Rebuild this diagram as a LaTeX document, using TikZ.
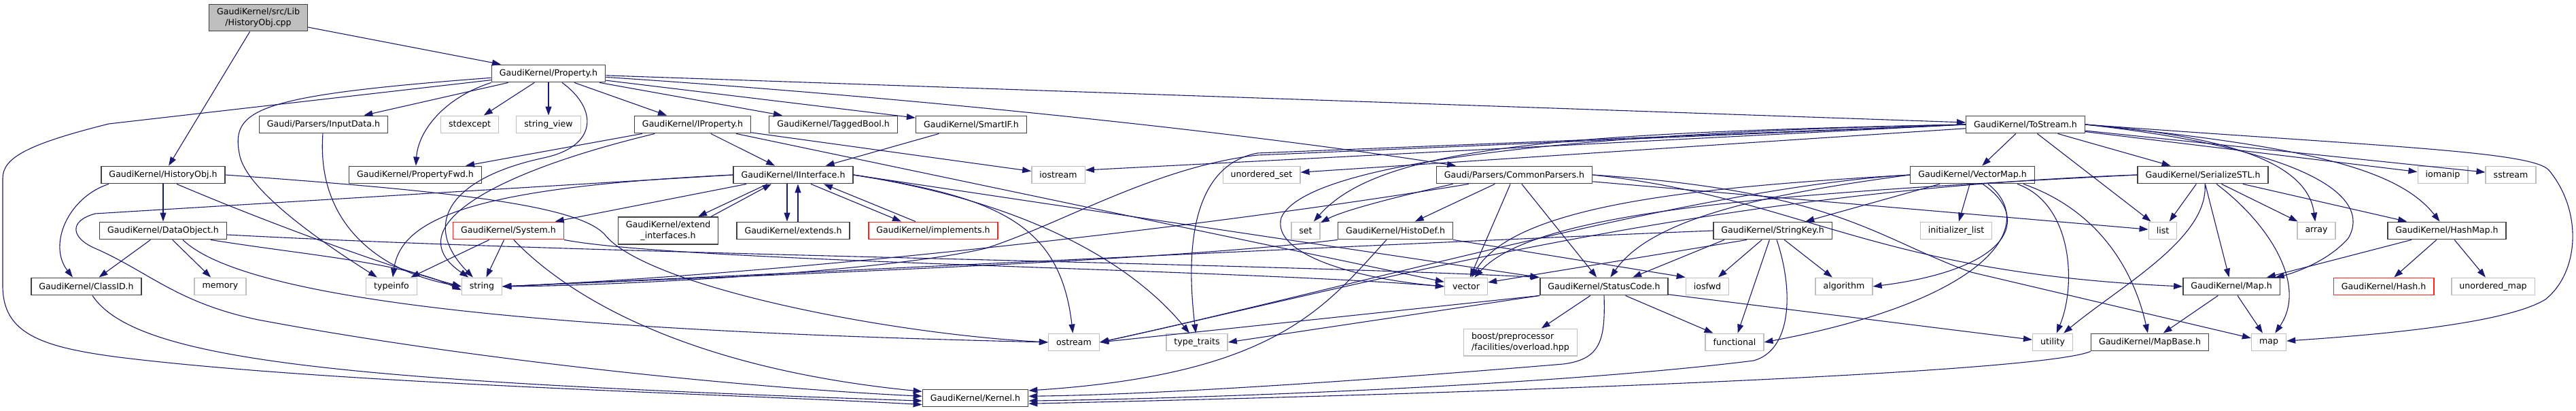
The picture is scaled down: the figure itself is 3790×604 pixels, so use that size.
\documentclass[tikz,border=0pt]{standalone}
\usepackage{fontspec}
\setmainfont{DejaVu Sans}
\usepackage{tikz}
\usetikzlibrary{arrows.meta}
\definecolor{edgeblue}{HTML}{191970}
\definecolor{boxline}{HTML}{404040}
\definecolor{extline}{HTML}{BFBFBF}
\definecolor{rootfill}{HTML}{BFBFBF}
\definecolor{truncline}{HTML}{FF2020}
\tikzset{
  hdr/.style={draw=boxline, line width=1.4pt, fill=white, minimum height=25.5pt,
    inner xsep=11.5pt, inner ysep=6pt, font=\fontsize{12.6}{15.4}\selectfont, align=center},
  sys/.style={hdr, draw=extline},
  trunc/.style={hdr, draw=truncline},
  root/.style={hdr, fill=rootfill},
  dep/.style={draw=edgeblue, line width=1.1pt, -{Triangle[length=13pt,width=9pt]}},
}
\begin{document}
\begin{tikzpicture}[x=1pt,y=-1pt]
\useasboundingbox (0,0) rectangle (3790,604);
% nodes
\node[root] (cpp) at (380,26) {GaudiKernel/src/Lib\\/HistoryObj.cpp};
\node[hdr] (property) at (807,108) {GaudiKernel/Property.h};
\node[hdr] (inputdata) at (476,183) {Gaudi/Parsers/InputData.h};
\node[sys] (stdexcept) at (691,183) {stdexcept};
\node[sys] (stringview) at (807,183) {string\_view};
\node[hdr] (iproperty) at (1019,183) {GaudiKernel/IProperty.h};
\node[hdr] (taggedbool) at (1226,183) {GaudiKernel/TaggedBool.h};
\node[hdr] (smartif) at (1429,183) {GaudiKernel/SmartIF.h};
\node[hdr] (tostream) at (2980,183) {GaudiKernel/ToStream.h};
\node[hdr] (historyobjh) at (240,257) {GaudiKernel/HistoryObj.h};
\node[hdr] (propfwd) at (611,257) {GaudiKernel/PropertyFwd.h};
\node[hdr] (iinterface) at (1167,257) {GaudiKernel/IInterface.h};
\node[sys] (iostream) at (1557,257) {iostream};
\node[sys] (unorderedset) at (1856,257) {unordered\_set};
\node[hdr] (commonparsers) at (2228,257) {Gaudi/Parsers/CommonParsers.h};
\node[hdr] (vectormap) at (2902,257) {GaudiKernel/VectorMap.h};
\node[hdr] (serializestl) at (3241,257) {GaudiKernel/SerializeSTL.h};
\node[sys] (iomanip) at (3594,257) {iomanip};
\node[sys] (sstream) at (3694,257) {sstream};
\node[hdr] (dataobject) at (240,339) {GaudiKernel/DataObject.h};
\node[trunc] (system) at (748,339) {GaudiKernel/System.h};
\node[hdr] (extintf) at (983,339) {GaudiKernel/extend\\\_interfaces.h};
\node[hdr] (extends) at (1167,339) {GaudiKernel/extends.h};
\node[trunc] (implements) at (1373,339) {GaudiKernel/implements.h};
\node[sys] (set) at (1921,339) {set};
\node[hdr] (histodef) at (2053,339) {GaudiKernel/HistoDef.h};
\node[hdr] (stringkey) at (2608,339) {GaudiKernel/StringKey.h};
\node[sys] (initlist) at (2878,339) {initializer\_list};
\node[sys] (list) at (3182,339) {list};
\node[sys] (array) at (3408,339) {array};
\node[hdr] (hashmap) at (3600,339) {GaudiKernel/HashMap.h};
\node[hdr] (classid) at (127,421) {GaudiKernel/ClassID.h};
\node[sys] (memory) at (324,421) {memory};
\node[sys] (typeinfo) at (576,421) {typeinfo};
\node[sys] (string) at (709,421) {string};
\node[sys] (vector) at (2157,421) {vector};
\node[hdr] (statuscode) at (2360,421) {GaudiKernel/StatusCode.h};
\node[sys] (iosfwd) at (2512,421) {iosfwd};
\node[sys] (algorithm) at (2713,421) {algorithm};
\node[hdr] (map) at (3283,421) {GaudiKernel/Map.h};
\node[trunc] (hash) at (3507,421) {GaudiKernel/Hash.h};
\node[sys] (unorderedmap) at (3668,421) {unordered\_map};
\node[sys] (ostream) at (1580,503) {ostream};
\node[sys] (typetraits) at (1761,503) {type\_traits};
\node[sys, align=left] (boost) at (2237,503) {boost/preprocessor\\/facilities/overload.hpp};
\node[sys] (functional) at (2552,503) {functional};
\node[sys] (utility) at (3020,503) {utility};
\node[hdr] (mapbase) at (3163,503) {GaudiKernel/MapBase.h};
\node[sys] (stdmap) at (3338,503) {map};
\node[hdr] (kernel) at (1435,585) {GaudiKernel/Kernel.h};
% root file
\draw[dep] (cpp) -- (property);
\draw[dep] (cpp) -- (historyobjh);
% Property.h
\draw[dep] (property) -- (inputdata);
\draw[dep] (property) -- (stdexcept);
\draw[dep] (property) -- (stringview);
\draw[dep] (property) -- (iproperty);
\draw[dep] (property) -- (taggedbool);
\draw[dep] (property) -- (smartif);
\draw[dep] (property) -- (tostream);
\draw[dep] (property) .. controls (1300,140) and (1800,190) .. (commonparsers);
\draw[dep] (property.south west) .. controls (650,145) and (615,195) .. (propfwd);
\draw[dep] (property) .. controls (380,140) and (340,160) .. (352,225) .. controls (360,280) and (480,360) .. (typeinfo);
\draw[dep] ([xshift=20pt]property.south) .. controls (880,160) and (880,215) .. (800,232) .. controls (660,262) and (620,330) .. (string);
\draw[dep] (property) -- (160,182) .. controls (40,212) and (4,232) .. (4,262) -- (4,420) .. controls (4,490) and (60,510) .. (175,525) .. controls (500,565) and (1100,580) .. (kernel.187);
% HistoryObj.h and DataObject.h
\draw[dep] ([xshift=-80pt]historyobjh.south) .. controls (100,290) and (70,360) .. ([xshift=-20pt]classid.north);
\draw[dep] (historyobjh) -- (dataobject);
\draw[dep] ([xshift=20pt]historyobjh.south) .. controls (400,330) and (580,395) .. (string.west);
\draw[dep] (historyobjh.east) .. controls (650,280) and (850,300) .. (890,345) .. controls (950,420) and (1300,490) .. (ostream.west);
\draw[dep] (dataobject) -- (classid);
\draw[dep] (dataobject) -- (memory);
\draw[dep] ([xshift=70pt]dataobject.south) .. controls (450,375) and (590,385) .. (string.190);
\draw[dep] ([xshift=29pt]dataobject.south) .. controls (380,460) and (1000,490) .. (ostream.west);
\draw[dep] ([yshift=-6pt]dataobject.east) .. controls (900,375) and (1800,385) .. (statuscode.north west);
\draw[dep] (classid) .. controls (200,530) and (500,560) .. (kernel.183);
\draw[dep] (inputdata) .. controls (465,330) and (560,400) .. (string.west);
% IProperty.h, SmartIF.h
\draw[dep] (iproperty) -- (propfwd);
\draw[dep] (iproperty) -- (iinterface);
\draw[dep] (iproperty) -- (iostream);
\draw[dep] (iproperty) .. controls (700,260) and (590,340) .. (string);
\draw[dep] (iproperty) -- (vector);
\draw[dep] (smartif) -- (iinterface);
% IInterface.h
\draw[dep] (iinterface) -- (system);
\draw[dep] ([xshift=-38pt]iinterface.south) -- ([xshift=44pt]extintf.north);
\draw[dep] ([xshift=63pt]extintf.north) -- ([xshift=-32pt]iinterface.south);
\draw[dep] ([xshift=-9pt]iinterface.south) -- ([xshift=-9pt]extends.north);
\draw[dep] ([xshift=7pt]extends.north) -- ([xshift=7pt]iinterface.south);
\draw[dep] ([xshift=26pt]iinterface.south) -- ([xshift=-47pt]implements.north);
\draw[dep] ([xshift=-26pt]implements.north) -- ([xshift=45pt]iinterface.south);
\draw[dep] (iinterface.west) .. controls (700,275) and (590,320) .. (typeinfo);
\draw[dep] (iinterface.west) -- (140,314) .. controls (100,325) and (105,350) .. (140,365) .. controls (220,400) and (260,445) .. (380,470) .. controls (700,530) and (1100,570) .. (kernel.178);
\draw[dep] (iinterface.east) .. controls (1470,290) and (1560,330) .. (ostream);
\draw[dep] (iinterface.east) .. controls (1500,295) and (1660,380) .. (typetraits);
\draw[dep] (iinterface.east) -- ([xshift=-1pt]statuscode.north west);
% System.h
\draw[dep] (system) -- (typeinfo);
\draw[dep] (system) -- (string);
\draw[dep] (system.300) .. controls (830,430) and (1000,540) .. (kernel.173);
\draw[dep] (system.south east) .. controls (1000,385) and (1800,395) .. (vector.west);
% ToStream.h
\draw[dep] (tostream) -- (vectormap);
\draw[dep] (tostream) -- (serializestl);
\draw[dep] (tostream) -- (list);
\draw[dep] (tostream) -- (iomanip);
\draw[dep] (tostream) -- (sstream);
\draw[dep] (tostream.east) .. controls (3280,200) and (3395,240) .. (array);
\draw[dep] (tostream.east) .. controls (3400,215) and (3530,250) .. (hashmap);
\draw[dep] (tostream.east) .. controls (3400,220) and (3490,290) .. (3455,350) .. controls (3420,390) and (3360,405) .. (map);
\draw[dep] (tostream.east) .. controls (3500,215) and (3725,222) .. (3750,250) .. controls (3800,310) and (3795,400) .. (3745,440) .. controls (3680,480) and (3450,495) .. (stdmap);
\draw[dep] (tostream.west) -- (iostream.10);
\draw[dep] (tostream) -- (unorderedset);
\draw[dep] (tostream.west) .. controls (2300,195) and (2030,215) .. (set);
\draw[dep] (tostream.west) .. controls (2300,195) and (1920,240) .. (1885,320) .. controls (1870,375) and (2000,410) .. (vector.west);
\draw[dep] (tostream.west) -- (1850,225) .. controls (1770,240) and (1740,330) .. (typetraits);
\draw[dep] (tostream.west) -- (1850,228) .. controls (1700,245) and (1560,330) .. (1450,365) .. controls (1300,400) and (900,420) .. (string.east);
% CommonParsers.h, HistoDef.h
\draw[dep] ([xshift=25pt]commonparsers.south west) .. controls (2050,290) and (1975,310) .. (set);
\draw[dep] (commonparsers) -- (histodef);
\draw[dep] (commonparsers) -- (vector);
\draw[dep] (commonparsers) -- (statuscode);
\draw[dep] ([xshift=48pt]commonparsers.south west) .. controls (1800,330) and (1200,400) .. (string.east);
\draw[dep] (commonparsers) -- (list);
\draw[dep] (commonparsers.east) .. controls (2650,290) and (2750,400) .. (map.west);
\draw[dep] (commonparsers.east) .. controls (2700,280) and (2760,350) .. (2900,400) -- (stdmap);
\draw[dep] (histodef.south west) .. controls (1700,385) and (1100,405) .. (string.east);
\draw[dep] ([xshift=-13pt]histodef.south) .. controls (1950,450) and (1880,550) .. (kernel.8);
\draw[dep] (histodef.south east) -- (iosfwd.north west);
% VectorMap.h
\draw[dep] (vectormap) -- (stringkey);
\draw[dep] (vectormap) -- (initlist);
\draw[dep] ([xshift=15pt]vectormap.south) .. controls (2990,320) and (2960,395) .. (algorithm.east);
\draw[dep] ([xshift=23pt]vectormap.south) .. controls (3000,330) and (2930,440) .. (functional.east);
\draw[dep] ([xshift=66pt]vectormap.south) .. controls (3050,300) and (3055,420) .. (utility);
\draw[dep] ([xshift=75pt]vectormap.south) .. controls (3090,310) and (3140,400) .. (mapbase);
\draw[dep] (vectormap.west) .. controls (2500,275) and (2230,300) .. (vector);
\draw[dep] (vectormap.west) .. controls (2500,275) and (2000,420) .. (ostream.east);
\draw[dep] (vectormap.west) .. controls (2600,285) and (2430,320) .. (statuscode);
% StringKey.h
\draw[dep] (stringkey.west) .. controls (2000,360) and (1100,405) .. (string.east);
\draw[dep] ([xshift=-38pt]stringkey.south) -- ([yshift=6pt]vector.east);
\draw[dep] ([xshift=-71pt]stringkey.south) -- ([xshift=42pt]statuscode.north);
\draw[dep] (stringkey) -- (iosfwd);
\draw[dep] (stringkey) -- (functional);
\draw[dep] (stringkey) -- (algorithm);
\draw[dep] ([xshift=6pt]stringkey.south) .. controls (2640,430) and (2635,515) .. (2580,530) .. controls (2300,565) and (1800,585) .. (kernel.-3);
% SerializeSTL.h
\draw[dep] (serializestl) -- (list);
\draw[dep] (serializestl) -- (array);
\draw[dep] (serializestl) -- (map);
\draw[dep] (serializestl) -- (hashmap);
\draw[dep] ([xshift=20pt]serializestl.south) .. controls (3340,330) and (3395,420) .. (stdmap);
\draw[dep] ([xshift=3pt]serializestl.south) .. controls (3250,350) and (3120,420) .. (utility);
\draw[dep] (serializestl.west) .. controls (2600,285) and (2260,310) .. (vector);
\draw[dep] (serializestl.west) .. controls (2500,280) and (2000,420) .. (ostream.east);
% StatusCode.h
\draw[dep] (statuscode) -- (boost);
\draw[dep] (statuscode) -- (functional);
\draw[dep] (statuscode) -- (utility);
\draw[dep] (statuscode.south west) -- (ostream.east);
\draw[dep] (statuscode.south west) -- (typetraits.east);
\draw[dep] (statuscode.south) .. controls (2362,500) and (2355,528) .. (2300,535) .. controls (2000,560) and (1700,580) .. (kernel.2);
% HashMap.h, Map.h, MapBase.h
\draw[dep] (hashmap) -- (map);
\draw[dep] (hashmap) -- (hash);
\draw[dep] (hashmap) -- (unorderedmap);
\draw[dep] (map) -- (mapbase);
\draw[dep] (map) -- (stdmap);
\draw[dep] (mapbase.south west) .. controls (3000,548) and (2200,578) .. (kernel.-6);
\end{tikzpicture}
\end{document}
